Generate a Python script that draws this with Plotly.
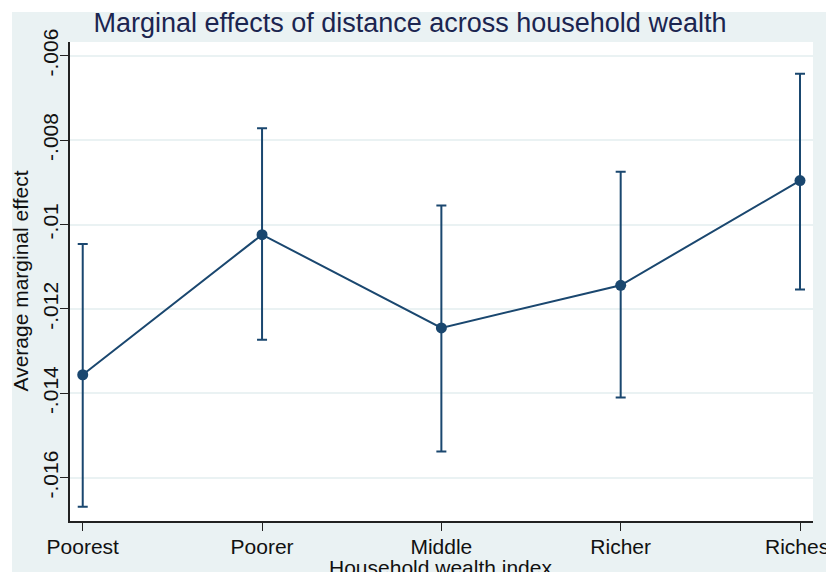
import plotly.graph_objects as go

categories = ["Poorest", "Poorer", "Middle", "Richer", "Richest"]
margins = [-0.01356, -0.01024, -0.01245, -0.01144, -0.00896]
ci_upper = [-0.01046, -0.00772, -0.00955, -0.00875, -0.00643]
ci_lower = [-0.01669, -0.01273, -0.01538, -0.01410, -0.01154]
y_ticks = [-0.016, -0.014, -0.012, -0.010, -0.008, -0.006]
y_ticktext = ["-.016", "-.014", "-.012", "-.01", "-.008", "-.006"]

x_pos = list(range(1, len(categories) + 1))
err_plus = [u - m for u, m in zip(ci_upper, margins)]
err_minus = [m - l for m, l in zip(margins, ci_lower)]

NAVY = "#1A476F"
BG = "#EAF2F3"
FONT = "Liberation Sans, Arial, Helvetica, sans-serif"

fig = go.Figure()
fig.add_trace(go.Scatter(
    x=x_pos, y=margins, mode="lines+markers",
    line=dict(color=NAVY, width=2),
    marker=dict(color=NAVY, size=11),
    error_y=dict(type="data", symmetric=False, array=err_plus, arrayminus=err_minus,
                 color=NAVY, thickness=2, width=5),
    showlegend=False,
))

# page body adds an 8px offset; the figure is laid out to compensate
OFF = 8
W, H = 834, 572 - OFF
L, T = 70 - OFF, 42 - OFF
R = W - (813 - OFF)
B = H - (521 - OFF)
pw, ph = W - L - R, H - T - B
STRIP = 12 - OFF

fig.update_layout(
    width=W, height=H,
    margin=dict(l=L, r=R, t=T, b=B),
    paper_bgcolor=BG, plot_bgcolor="white",
    font=dict(family=FONT, color="#111111"),
    title=dict(text="Marginal effects of distance across household wealth",
               font=dict(size=27, color="#1B2550", family=FONT),
               x=(410 - OFF) / W, xref="container", xanchor="center",
               y=1 - (23 - OFF) / H, yref="container", yanchor="middle"),
    xaxis=dict(range=[0.929, 5.0725], tickmode="array", tickvals=x_pos, ticktext=categories,
               automargin=False, ticklabeloverflow="allow",
               showgrid=False, zeroline=False, showline=True, linecolor="#222222", linewidth=1.5,
               ticks="outside", ticklen=8, tickcolor="#222222", tickwidth=1.2,
               ticklabelstandoff=-2,
               tickfont=dict(size=21, color="#111111")),
    yaxis=dict(range=[-0.017025, -0.005676], tickmode="array", tickvals=y_ticks, ticktext=y_ticktext,
               automargin=False, ticklabeloverflow="allow",
               showgrid=True, gridcolor=BG, gridwidth=1.5, zeroline=False,
               showline=True, linecolor="#222222", linewidth=1.5,
               ticks="outside", ticklen=8, tickcolor="#222222", tickwidth=1.2,
               ticklabelstandoff=-6,
               tickangle=-90, tickfont=dict(size=21, color="#111111")),
    shapes=[
        dict(type="rect", xref="paper", yref="paper",
             x0=-0.2, x1=1.2, y0=(H - B - STRIP) / ph, y1=1.3,
             fillcolor="white", line=dict(width=0), layer="above"),
        dict(type="rect", xref="paper", yref="paper",
             x0=-0.2, x1=(STRIP - L) / pw, y0=-0.3, y1=1.3,
             fillcolor="white", line=dict(width=0), layer="above"),
    ],
    annotations=[
        dict(text="Average marginal effect", xref="paper", yref="paper",
             x=(20 - 70) / pw, y=0.5, textangle=-90, showarrow=False,
             xanchor="center", yanchor="middle",
             font=dict(size=21, color="#111111", family=FONT)),
        dict(text="Household wealth index", xref="paper", yref="paper",
             x=(440 - 70) / pw, y=(521 - 554) / ph, showarrow=False,
             xanchor="center", yanchor="top",
             font=dict(size=21, color="#111111", family=FONT)),
    ],
)

fig.write_html("out.html")
